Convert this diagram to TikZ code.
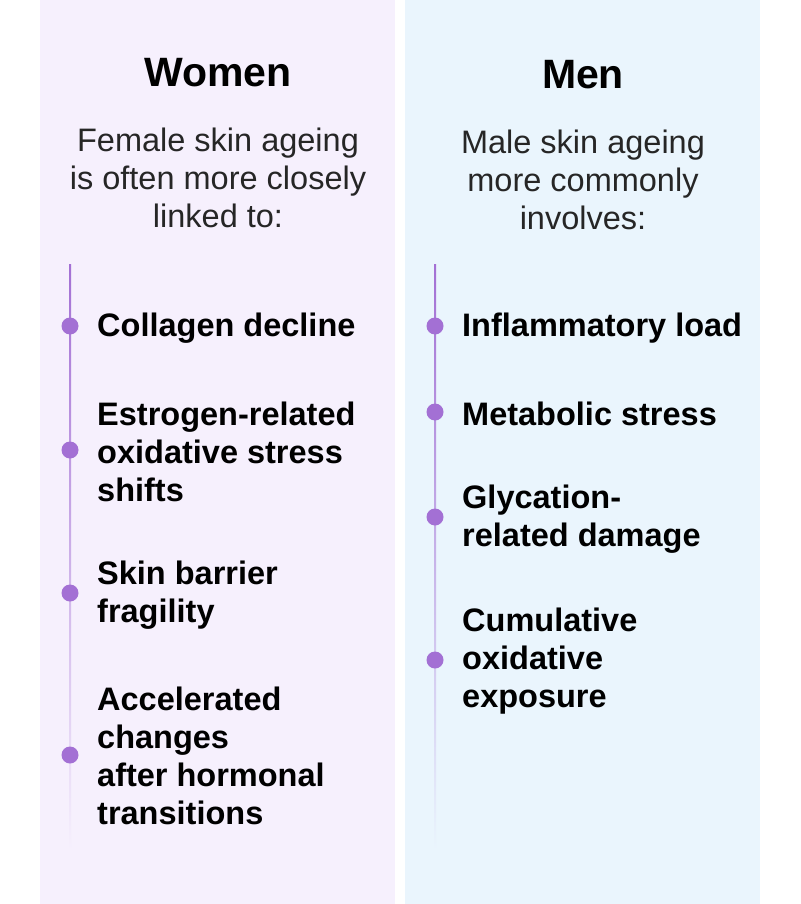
\documentclass[tikz,border=0pt]{standalone}
\usepackage{fontspec}
\setmainfont{Liberation Sans}
\definecolor{pl}{HTML}{F6F0FD}
\definecolor{pb}{HTML}{EAF5FD}
\definecolor{dot}{HTML}{A370D4}
\begin{document}
\begin{tikzpicture}[x=1pt,y=-1pt,
  title/.style={font=\fontsize{41}{46}\selectfont\bfseries},
  intro/.style={font=\fontsize{32.5}{38}\selectfont,align=center,text=black!85},
  item/.style={font=\fontsize{32.5}{38}\selectfont\bfseries,align=left,anchor=west,inner sep=0pt},
  dotc/.style={circle,fill=dot,minimum size=17pt,inner sep=0pt}]
\useasboundingbox (0,0) rectangle (800,904);
\fill[white] (0,0) rectangle (800,904);
\fill[pl] (40,0) rectangle (395,904);
\fill[pb] (405,0) rectangle (760,904);
\shade[top color=dot,bottom color=pl] (69,264) rectangle (71,850);
\shade[top color=dot,bottom color=pb] (434,264) rectangle (436,850);
\node[title] (tw) at (218,73) {Women};
\node[title] (tm) at (583,75) {Men};
\node[intro] (iw) at (218,178) {Female skin ageing\\is often more closely\\linked to:};
\node[intro] (im) at (583,180) {Male skin ageing\\more commonly\\involves:};
\node[dotc] (d1) at (70,326) {}; \node[item] (t1) at (97,328) {Collagen decline};
\node[dotc] (d2) at (70,450) {}; \node[item] (t2) at (97,452) {Estrogen-related\\oxidative stress\\shifts};
\node[dotc] (d3) at (70,593) {}; \node[item] (t3) at (97,595) {Skin barrier\\fragility};
\node[dotc] (d4) at (70,755) {}; \node[item] (t4) at (97,756) {Accelerated\\changes\\after hormonal\\transitions};
\node[dotc] (e1) at (435,326) {}; \node[item] (u1) at (462,328) {Inflammatory load};
\node[dotc] (e2) at (435,412) {}; \node[item] (u2) at (462,414) {Metabolic stress};
\node[dotc] (e3) at (435,517) {}; \node[item] (u3) at (462,519) {Glycation-\\related damage};
\node[dotc] (e4) at (435,660) {}; \node[item] (u4) at (462,661) {Cumulative\\oxidative\\exposure};
\end{tikzpicture}
\end{document}
